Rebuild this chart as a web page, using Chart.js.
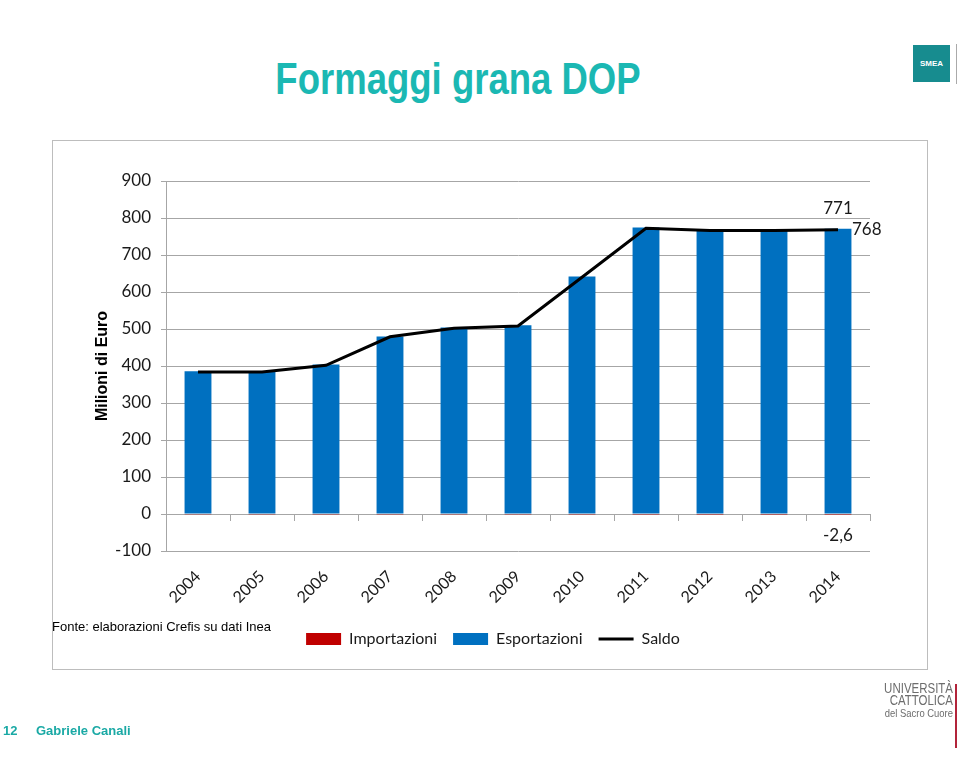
<!DOCTYPE html>
<html>
<head>
<meta charset="utf-8">
<script src="https://cdn.jsdelivr.net/npm/chart.js@4.4.1/dist/chart.umd.min.js"></script>
<style>
  html, body { margin: 0; padding: 0; }
  body { width: 960px; height: 758px; overflow: hidden; position: relative; background: #fff; font-family: "Liberation Sans", Arial, sans-serif; }
  #riquadro { position: absolute; left: 52px; top: 140px; width: 874px; height: 528px; border: 1px solid #bdbdbd; }
  #grafico { position: absolute; left: 0; top: 0; }
  #titolo { position: absolute; left: 0; width: 916px; top: 57px; line-height: 44px; text-align: center; font-weight: bold; font-size: 44px; color: #1bb8b3; transform: scaleX(0.83); transform-origin: 458px 0; }
  #fonte { position: absolute; left: 52px; top: 619px; font-size: 13px; line-height: 15px; color: #000; }
  #pagina { position: absolute; left: 3px; top: 723px; font-size: 13px; line-height: 15px; color: #1aa9a5; font-weight: bold; }
  #autore { position: absolute; left: 36px; top: 723px; font-size: 13px; line-height: 15px; color: #1aa9a5; font-weight: bold; }
  #smea { position: absolute; left: 913px; top: 45px; width: 37px; height: 37px; background: #178c8f; color: #fff; font-size: 8px; font-weight: bold; text-align: center; line-height: 37px; }
  #smea-riga { position: absolute; left: 956px; top: 44px; width: 1px; height: 40px; background: #aaa; }
  #ucsc { position: absolute; left: 833px; width: 120px; top: 682px; text-align: right; color: #6d6d6d; font-size: 14px; line-height: 12px; transform: scaleX(0.82); transform-origin: 120px 0; }
  #ucsc .piccolo { font-size: 11.5px; }
  #ucsc-riga { position: absolute; left: 955px; top: 684px; width: 1.5px; height: 64px; background: #b2243a; }
</style>
</head>
<body>
<div id="titolo">Formaggi grana DOP</div>
<div id="smea">SMEA</div>
<div id="smea-riga"></div>
<div id="riquadro"></div>
<canvas id="grafico" width="986" height="758"></canvas>
<div id="fonte">Fonte: elaborazioni Crefis su dati Inea</div>
<div id="pagina">12</div>
<div id="autore">Gabriele Canali</div>
<div id="ucsc">UNIVERSITÀ<br>CATTOLICA<br><span class="piccolo">del Sacro Cuore</span></div>
<div id="ucsc-riga"></div>

<script>
    // Dati (milioni di euro)
    const anni = ['2004', '2005', '2006', '2007', '2008', '2009', '2010', '2011', '2012', '2013', '2014'];
    const importazioni = [-2.0, -2.1, -2.2, -0.5, -2.1, -2.2, -2.3, -2.4, -2.5, -2.5, -2.6];
    const esportazioni = [386, 386, 404, 480, 504, 510, 642, 774, 768, 768, 771];
    const saldo = [384, 384, 402, 479, 502, 508, 640, 772, 766, 766, 768];
    const tickY = { min: -100, max: 900, passo: 100 };

    const grigio = '#a6a6a6';

    // Etichette dei valori dell'ultimo anno
    const etichette = {
        id: 'etichette',
        afterDatasetsDraw(chart) {
            const ctx = chart.ctx;
            const ultimo = anni.length - 1;
            const pImp = chart.getDatasetMeta(0).data[ultimo];
            const pEsp = chart.getDatasetMeta(1).data[ultimo];
            const pSal = chart.getDatasetMeta(2).data[ultimo];
            ctx.save();
            ctx.font = '17px Lato';
            ctx.fillStyle = '#1a1a1a';
            ctx.textBaseline = 'middle';
            ctx.textAlign = 'center';
            ctx.fillText(String(esportazioni[ultimo]), pEsp.x, pEsp.y - 20);
            ctx.fillText(String(importazioni[ultimo]).replace('.', ','), pImp.x, pImp.y + 21);
            ctx.textAlign = 'left';
            ctx.fillText(String(saldo[ultimo]), pSal.x + 14, pSal.y);
            ctx.restore();
        }
    };

    const ctx = document.getElementById('grafico').getContext('2d');
    const myChart = new Chart(ctx, {
        type: 'bar',
        data: {
            labels: anni,
            datasets: [
                {
                    label: 'Importazioni',
                    data: importazioni,
                    backgroundColor: '#c00000',
                    borderWidth: 0,
                    grouped: false,
                    categoryPercentage: 1,
                    barPercentage: 0.42,
                    pointStyle: 'rect',
                    order: 2
                },
                {
                    label: 'Esportazioni',
                    data: esportazioni,
                    backgroundColor: '#0070c0',
                    borderWidth: 0,
                    grouped: false,
                    categoryPercentage: 1,
                    barPercentage: 0.42,
                    pointStyle: 'rect',
                    order: 1
                },
                {
                    type: 'line',
                    label: 'Saldo',
                    data: saldo,
                    borderColor: '#000',
                    backgroundColor: '#000',
                    borderWidth: 3,
                    pointRadius: 0,
                    pointStyle: 'line',
                    tension: 0,
                    order: 0
                }
            ]
        },
        options: {
            responsive: false,
            animation: false,
            layout: { padding: { left: 0, right: 0, top: 181, bottom: 101 } },
            plugins: {
                title: { display: false },
                tooltip: { enabled: false },
                legend: {
                    display: true,
                    position: 'bottom',
                    labels: {
                        usePointStyle: true,
                        pointStyleWidth: 35,
                        boxHeight: 12,
                        padding: 16,
                        color: '#1a1a1a',
                        font: { family: 'Lato', size: 16 },
                        sort: (a, b) => a.datasetIndex - b.datasetIndex
                    }
                }
            },
            scales: {
                x: {
                    grid: { display: false },
                    border: { display: false },
                    ticks: {
                        font: { family: 'Lato', size: 16 },
                        color: '#1a1a1a',
                        maxRotation: 45,
                        minRotation: 45,
                        padding: 8
                    },
                    afterFit(s) { s.height = 64; }
                },
                x2: {
                    type: 'category',
                    position: { y: 0 },
                    offset: true,
                    grid: { display: true, offset: true, drawOnChartArea: false, drawTicks: true, tickLength: 6, color: grigio },
                    ticks: { display: false },
                    border: { display: true, color: grigio }
                },
                y: {
                    min: tickY.min,
                    max: tickY.max,
                    ticks: {
                        stepSize: tickY.passo,
                        font: { family: 'Lato', size: 17 },
                        color: '#1a1a1a',
                        padding: 10
                    },
                    grid: { color: grigio, tickLength: 5 },
                    border: { display: true, color: grigio },
                    title: {
                        display: true,
                        text: 'Milioni di Euro',
                        color: '#000',
                        font: { family: 'Liberation Sans', size: 16, weight: 'bold' },
                        padding: { top: 93, bottom: 0 }
                    },
                    afterFit(s) { s.width = 166; }
                },
                yR: {
                    position: 'right',
                    display: true,
                    grid: { display: false },
                    border: { display: false },
                    ticks: { display: false },
                    afterFit(s) { s.width = 116; }
                }
            }
        },
        plugins: [etichette]
    });
</script>
</body>
</html>
